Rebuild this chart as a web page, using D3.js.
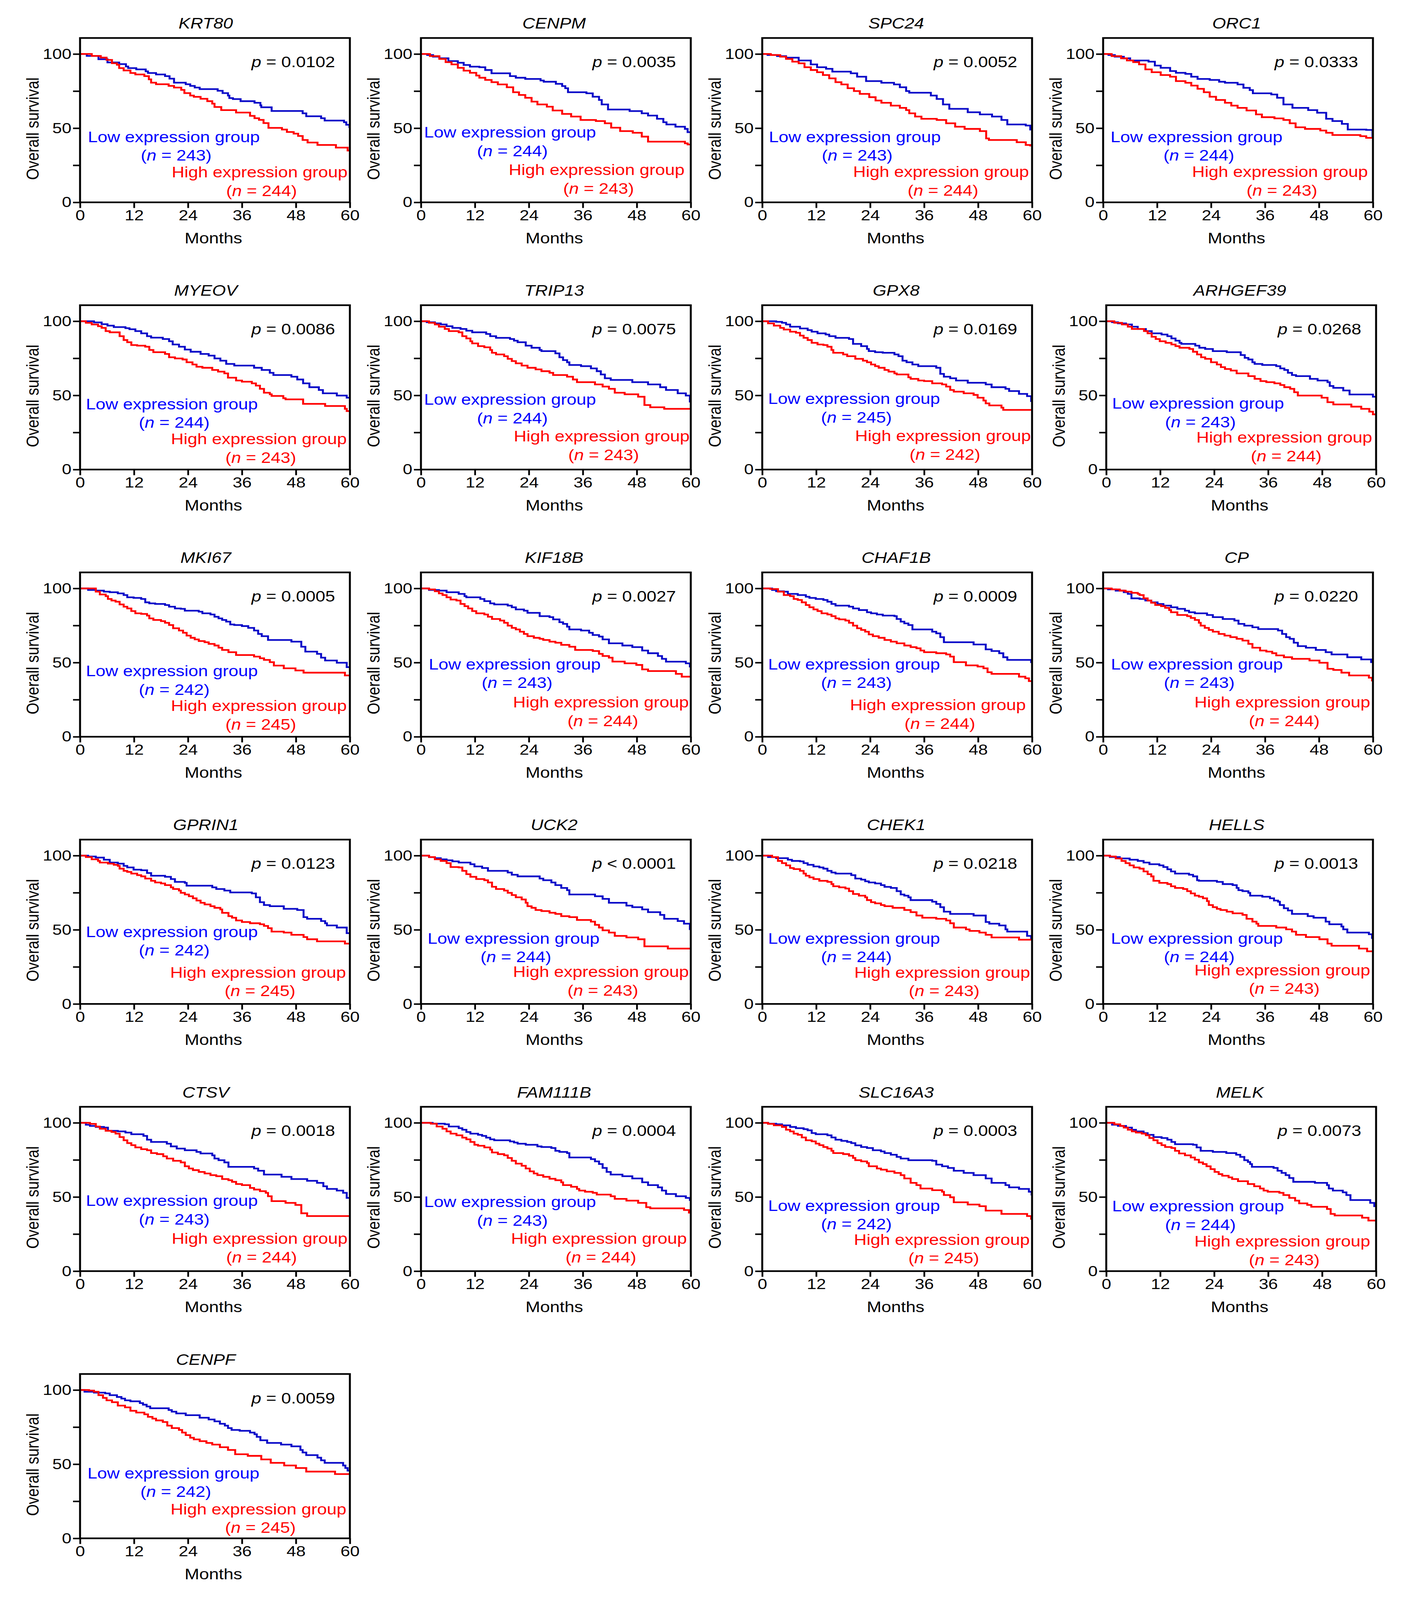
<!DOCTYPE html>
<html lang="en">
<head>
<meta charset="UTF-8">
<title>overall survival by expression group</title>
<script src="https://cdn.jsdelivr.net/npm/d3@7"></script>
<style>
  html, body { margin: 0; padding: 0; background: #fff; overflow: hidden; }
  #chart svg { display: block; }
  text { font-family: "Liberation Sans", Arial, sans-serif; }
</style>
</head>
<body>
<div id="chart"></div>
<script>
// ---- data ----
const genes = ["KRT80", "CENPM", "SPC24", "ORC1",
               "MYEOV", "TRIP13", "GPX8", "ARHGEF39",
               "MKI67", "KIF18B", "CHAF1B", "CP",
               "GPRIN1", "UCK2", "CHEK1", "HELLS",
               "CTSV", "FAM111B", "SLC16A3", "MELK",
               "CENPF"];
const pLabels = ["= 0.0102", "= 0.0035", "= 0.0052", "= 0.0333",
                 "= 0.0086", "= 0.0075", "= 0.0169", "= 0.0268",
                 "= 0.0005", "= 0.0027", "= 0.0009", "= 0.0220",
                 "= 0.0123", "< 0.0001", "= 0.0218", "= 0.0013",
                 "= 0.0018", "= 0.0004", "= 0.0003", "= 0.0073",
                 "= 0.0059"];
const nLow  = [243, 244, 243, 244, 244, 244, 245, 243, 242, 243, 243, 243, 242, 244, 244, 244, 243, 243, 242, 244, 242];
const nHigh = [244, 243, 244, 243, 243, 243, 242, 244, 245, 244, 244, 244, 245, 243, 243, 243, 244, 244, 245, 243, 245];

const monthTicks = [0, 12, 24, 36, 48, 60];
const survivalTicks = [0, 25, 50, 75, 100];
const labelledSurvival = [0, 50, 100];

// Kaplan-Meier steps: [month, survival %] after each drop
const lowCurves = [
  [[1.5,98.7],[4.1,96.5],[6.1,94.3],[8.7,93.2],[10.2,91.6],[10.7,90.5],[12.5,89.6],[14.6,88.3],[15.1,87.2],[16.9,86.2],[18.9,85.1],[19.9,83.4],[20.9,80.7],[23.5,79.6],[24.5,78.5],[25.5,77.4],[26.6,76.3],[30.6,75.2],[31.7,73.6],[32.9,72.0],[33.2,70.3],[34.0,69.6],[35.7,68.2],[38.8,67.1],[40.1,65.4],[40.3,64.1],[42.6,61.6],[49.5,60.0],[50.3,58.0],[53.6,56.7],[54.4,55.1],[58.7,54.0],[59.2,52.3],[59.9,50.7]],
  [[1.4,99.3],[2.7,98.2],[4.1,97.1],[6.1,95.2],[8.2,94.1],[9.5,92.6],[10.9,91.5],[13.0,91.1],[14.3,89.2],[15.7,87.0],[19.8,85.1],[21.1,84.0],[23.2,83.2],[26.6,82.1],[27.3,81.3],[30.0,79.9],[31.4,78.4],[32.1,76.9],[32.7,74.2],[36.8,73.5],[38.2,71.2],[39.6,69.0],[40.2,66.0],[41.6,62.6],[46.4,61.5],[49.1,60.0],[50.5,58.5],[52.5,56.3],[53.9,54.0],[54.6,52.5],[56.6,51.0],[58.7,49.5],[59.3,47.3]],
  [[1.2,99.3],[3.3,98.6],[5.3,97.5],[8.1,95.6],[10.8,93.0],[12.2,91.1],[14.2,90.0],[15.6,88.1],[19.7,87.0],[21.1,84.7],[23.1,81.7],[26.5,80.6],[29.3,79.5],[30.6,77.6],[32.0,75.0],[32.7,73.9],[37.5,72.0],[38.8,69.7],[40.2,66.0],[41.6,63.0],[45.7,60.7],[48.4,59.3],[51.1,57.8],[53.2,55.5],[54.5,52.5],[58.6,51.8],[59.6,49.1]],
  [[1.2,99.3],[2.6,98.2],[4.6,97.1],[6.0,95.6],[10.1,94.8],[11.5,92.2],[12.8,90.7],[14.9,88.5],[16.2,87.3],[18.3,86.6],[19.6,84.7],[21.0,83.2],[23.7,82.5],[25.8,81.3],[27.1,80.6],[29.9,79.5],[31.2,77.2],[32.6,75.7],[33.3,73.5],[37.4,72.7],[38.7,70.5],[40.1,66.0],[42.1,63.7],[45.6,62.2],[47.6,60.4],[49.6,56.3],[51.0,54.8],[53.1,52.9],[54.4,49.1],[58.5,48.8],[59.9,44.3]],
  [[3.1,99.2],[4.8,98.0],[6.1,97.0],[7.5,96.0],[10.1,95.3],[11.0,94.6],[12.3,93.3],[13.6,91.8],[14.9,89.9],[15.8,88.9],[18.4,88.0],[19.8,86.5],[20.6,84.3],[22.0,82.8],[23.3,80.9],[24.6,79.4],[26.8,77.9],[28.6,76.8],[29.9,74.9],[31.2,73.4],[32.5,71.2],[34.3,70.1],[38.7,68.6],[40.4,67.1],[42.2,65.2],[43.0,63.7],[47.0,62.6],[48.3,60.7],[49.6,58.1],[51.0,55.5],[53.1,53.6],[54.0,51.4],[57.1,49.9],[59.3,48.4]],
  [[1.3,99.3],[3.1,98.5],[4.4,97.8],[5.7,96.6],[7.0,95.5],[8.8,94.8],[10.1,93.6],[11.4,92.5],[14.5,91.4],[15.4,89.9],[16.7,88.8],[19.8,88.0],[20.7,86.9],[21.5,85.8],[23.3,83.5],[24.6,82.1],[26.4,80.6],[26.8,79.8],[29.9,78.3],[30.8,75.7],[31.6,73.8],[32.5,72.3],[33.0,70.5],[35.6,69.7],[37.8,68.2],[39.1,66.3],[40.0,64.1],[40.9,61.5],[42.2,60.4],[47.0,58.9],[50.5,57.4],[53.2,55.5],[54.5,53.6],[57.1,51.4],[58.9,49.9],[59.8,45.8]],
  [[3.1,99.6],[4.4,98.9],[5.3,97.8],[6.2,96.3],[8.4,95.1],[10.1,94.0],[11.0,92.9],[12.3,91.8],[14.1,91.0],[14.9,89.9],[16.3,88.8],[19.3,88.0],[20.2,84.7],[22.0,83.2],[23.3,81.3],[23.7,79.8],[25.1,79.1],[26.8,78.7],[29.4,77.6],[30.3,76.4],[31.2,73.4],[32.1,72.3],[33.4,70.8],[34.7,69.7],[38.7,68.6],[39.6,64.5],[40.4,62.6],[41.8,61.5],[43.1,60.0],[45.7,58.5],[49.7,57.4],[51.0,55.5],[54.1,54.4],[54.9,52.9],[57.1,51.0],[58.9,49.5],[59.8,46.1]],
  [[1.3,99.3],[2.6,98.5],[4.4,97.8],[5.7,96.3],[7.0,94.8],[8.8,93.3],[10.1,91.8],[12.3,91.0],[13.6,89.9],[14.5,88.4],[15.4,86.9],[16.3,85.4],[16.7,84.7],[19.8,83.5],[20.7,82.1],[22.0,81.3],[23.7,79.8],[26.8,79.1],[29.9,77.2],[30.8,75.3],[31.6,74.2],[32.5,72.3],[33.0,71.2],[34.7,70.5],[37.8,69.7],[38.7,68.2],[39.6,67.1],[40.4,65.2],[41.3,63.7],[42.2,63.0],[45.3,61.1],[47.0,60.0],[49.2,58.9],[49.7,56.3],[50.5,55.1],[52.7,53.3],[54.1,50.6],[59.3,49.1]],
  [[1.8,98.9],[3.5,98.5],[5.3,97.8],[6.6,97.4],[8.4,96.6],[9.7,95.5],[10.5,94.0],[11.9,93.6],[13.6,92.9],[14.5,90.6],[15.4,89.9],[16.7,89.5],[18.9,88.8],[19.8,87.7],[21.1,86.5],[22.4,86.2],[23.3,85.0],[26.4,84.3],[27.2,83.2],[29.0,82.4],[29.9,80.9],[30.8,79.8],[31.6,78.7],[32.5,77.6],[33.4,75.7],[34.3,75.3],[36.0,74.6],[37.4,73.4],[38.7,71.6],[39.6,69.3],[40.4,67.8],[41.8,65.2],[47.0,64.1],[49.2,60.7],[50.1,57.4],[52.7,55.9],[53.6,53.3],[54.5,51.4],[57.1,49.9],[59.3,46.9]],
  [[1.8,98.9],[4.0,98.5],[5.7,97.4],[8.4,96.3],[9.7,94.8],[10.1,94.0],[13.2,92.9],[14.1,91.4],[15.4,89.9],[16.3,89.2],[19.3,88.4],[20.2,87.3],[21.1,85.8],[22.9,85.0],[23.7,83.5],[26.4,81.3],[28.6,80.6],[29.4,79.1],[30.8,77.2],[31.6,76.1],[32.5,74.2],[33.0,72.3],[35.6,71.6],[37.4,70.1],[38.2,68.6],[39.6,67.5],[40.4,65.6],[41.8,63.0],[44.8,61.5],[47.0,60.4],[49.2,58.1],[50.5,56.3],[52.7,54.4],[53.6,52.5],[54.5,50.6],[58.9,49.5],[59.8,47.3]],
  [[2.2,98.9],[3.1,98.1],[4.8,97.8],[5.7,96.3],[7.9,95.5],[9.7,94.4],[10.5,93.6],[11.9,92.9],[13.6,92.2],[14.5,91.0],[15.4,89.5],[16.3,88.4],[19.3,87.7],[20.2,86.5],[21.5,85.4],[23.3,83.9],[24.2,83.2],[25.5,82.4],[26.8,81.7],[29.4,81.3],[29.9,79.4],[30.8,77.6],[31.6,76.4],[32.5,75.3],[33.4,72.3],[37.8,70.8],[38.7,69.7],[39.6,67.1],[40.4,63.7],[47.0,62.2],[49.7,58.9],[51.0,57.8],[52.7,56.3],[53.6,53.6],[54.5,51.8],[59.8,50.3]],
  [[1.1,99.3],[2.8,98.5],[4.6,97.4],[5.5,96.3],[6.3,93.3],[8.1,92.9],[9.4,91.8],[10.7,90.6],[12.1,89.5],[13.4,88.4],[15.1,87.3],[16.5,86.2],[18.2,85.0],[19.1,83.9],[20.4,83.2],[23.1,82.1],[24.4,80.6],[26.6,79.4],[29.2,78.3],[30.1,76.1],[31.4,74.9],[33.2,73.8],[34.5,72.6],[38.9,71.6],[39.8,69.3],[40.7,67.1],[41.5,66.0],[42.4,63.4],[43.3,61.1],[45.1,60.0],[47.3,58.5],[49.5,57.0],[50.8,55.5],[54.3,53.6],[57.4,52.1],[59.6,50.3]],
  [[1.8,99.4],[3.5,98.7],[5.3,97.2],[6.6,95.3],[8.4,94.6],[9.7,93.1],[10.5,92.0],[11.9,90.5],[13.6,90.1],[14.9,88.3],[15.8,86.4],[18.9,85.7],[20.2,84.2],[21.1,82.3],[23.3,81.6],[23.7,79.7],[29.4,78.6],[30.3,77.5],[32.1,76.4],[33.4,75.2],[38.2,74.5],[39.1,71.9],[40.0,68.6],[40.9,66.7],[42.2,65.9],[45.3,64.1],[48.3,63.3],[49.7,58.5],[50.5,57.4],[53.6,55.9],[54.5,54.4],[54.9,52.9],[57.1,51.5],[59.3,47.7]],
  [[1.8,99.0],[3.1,98.3],[4.4,97.5],[5.7,96.8],[7.0,96.1],[8.4,95.3],[11.0,94.2],[11.9,92.7],[13.6,91.6],[14.9,89.7],[19.3,88.6],[20.2,87.1],[21.5,86.0],[26.4,84.5],[27.2,83.4],[29.0,81.9],[29.9,80.1],[31.2,78.2],[32.5,76.7],[33.0,73.8],[38.7,72.6],[40.4,70.8],[41.8,68.2],[45.7,66.3],[47.0,65.2],[49.2,63.7],[50.5,61.9],[53.2,60.0],[54.1,57.4],[57.1,55.9],[58.5,54.1],[59.8,50.4]],
  [[1.3,99.0],[3.1,98.3],[5.7,97.2],[6.6,96.4],[8.4,96.1],[9.2,94.9],[10.1,93.8],[11.4,92.7],[12.7,92.0],[13.6,91.2],[14.5,89.7],[15.4,88.6],[16.3,87.9],[19.8,86.8],[20.7,84.5],[22.0,83.8],[22.9,82.7],[23.7,81.9],[25.1,81.2],[26.4,80.1],[27.2,78.9],[28.6,78.2],[29.9,76.0],[30.8,73.8],[31.6,73.0],[32.5,71.9],[33.0,70.0],[37.8,68.9],[38.7,67.4],[39.6,65.2],[40.4,62.2],[41.8,60.7],[47.0,59.6],[49.7,55.2],[50.5,54.1],[52.7,52.9],[54.1,50.3],[54.5,48.8],[58.9,45.9],[59.8,43.6]],
  [[1.5,99.0],[3.7,98.1],[5.9,97.2],[7.7,96.4],[9.0,95.3],[10.3,94.2],[12.5,93.4],[13.4,92.3],[14.3,90.8],[15.1,89.3],[16.0,87.9],[19.1,87.1],[20.0,86.0],[20.9,83.4],[21.3,83.0],[25.3,82.3],[26.6,80.8],[28.8,80.1],[29.7,78.2],[30.1,76.7],[31.0,76.0],[32.3,74.9],[32.7,73.0],[35.4,72.3],[37.1,71.2],[38.0,69.7],[38.9,68.9],[39.3,66.7],[40.2,64.5],[41.1,63.0],[42.0,60.7],[45.5,59.2],[46.8,58.1],[49.5,55.5],[50.3,53.7],[53.0,52.2],[53.4,50.3],[54.3,48.1],[59.1,47.0],[59.8,44.4]],
  [[1.3,98.7],[2.2,97.9],[3.5,97.2],[5.3,96.8],[6.2,94.6],[8.4,94.2],[10.1,93.4],[11.4,92.3],[14.1,91.2],[14.9,88.6],[15.8,87.1],[19.3,85.9],[20.2,84.1],[21.5,82.6],[23.3,81.5],[25.9,80.4],[26.8,79.3],[29.4,78.1],[29.9,75.9],[30.8,74.8],[32.1,73.3],[33.0,70.3],[38.7,69.2],[39.6,67.7],[40.9,65.1],[44.8,63.6],[47.0,62.1],[50.5,60.9],[52.7,59.5],[54.1,57.2],[54.9,55.4],[57.1,54.3],[58.5,52.8],[59.3,49.4]],
  [[2.6,99.4],[5.3,99.0],[6.2,97.5],[8.4,96.4],[9.2,95.3],[10.1,93.8],[11.0,92.7],[12.7,91.9],[13.6,91.2],[14.5,90.0],[15.4,88.9],[16.3,88.2],[19.8,87.4],[20.7,86.7],[21.5,85.9],[23.3,85.2],[25.9,84.1],[26.8,83.7],[29.0,83.0],[29.9,81.1],[30.8,80.4],[32.5,79.6],[33.0,76.6],[37.8,75.5],[38.7,74.0],[39.6,72.2],[40.4,69.6],[41.3,66.9],[42.2,65.1],[44.8,64.0],[47.0,62.5],[49.2,59.9],[50.5,58.0],[52.7,56.5],[53.6,54.3],[54.5,52.0],[56.7,50.5],[58.9,49.4],[59.8,47.9]],
  [[1.3,99.4],[3.1,99.0],[4.4,98.3],[6.2,97.2],[7.5,96.4],[9.2,95.7],[10.1,94.9],[11.0,93.1],[11.9,92.3],[14.5,91.6],[15.4,90.1],[16.3,88.6],[17.6,87.8],[18.9,87.1],[19.8,86.3],[20.7,84.8],[22.0,83.7],[23.3,83.0],[24.6,81.5],[26.4,80.7],[27.2,79.6],[28.6,78.5],[29.9,77.0],[30.8,75.9],[32.5,74.8],[37.8,74.4],[38.7,71.8],[40.0,70.7],[41.3,69.6],[42.6,67.7],[44.8,66.2],[47.0,64.7],[49.7,62.5],[51.0,59.5],[54.1,58.0],[54.9,56.5],[57.1,55.4],[59.3,53.5],[59.9,51.6]],
  [[1.3,98.7],[2.6,97.9],[4.4,96.8],[5.7,95.3],[6.6,94.2],[8.3,93.1],[9.2,91.9],[10.5,90.4],[12.3,89.7],[13.6,88.6],[14.5,87.1],[15.3,85.6],[19.3,85.2],[20.1,83.4],[21.0,81.1],[23.7,80.4],[26.7,79.6],[28.9,78.5],[29.8,77.0],[30.7,74.8],[31.5,73.6],[32.0,72.2],[32.4,70.3],[37.2,69.6],[38.1,67.7],[39.0,66.2],[39.9,64.7],[40.7,62.8],[41.6,60.2],[46.4,59.5],[49.1,58.0],[49.5,55.7],[50.4,54.3],[52.6,53.1],[53.4,51.3],[54.3,47.9],[58.7,46.0],[59.6,43.8]],
  [[1.0,98.8],[3.1,98.2],[5.6,97.7],[6.6,96.5],[8.2,95.3],[9.2,94.2],[10.0,93.0],[11.2,92.4],[13.3,91.2],[14.0,90.1],[14.8,88.9],[15.6,87.7],[19.7,86.5],[20.4,85.4],[21.4,84.2],[23.5,83.0],[26.6,81.3],[28.6,80.1],[29.9,78.9],[31.1,77.2],[32.2,76.0],[32.9,74.3],[33.7,73.1],[35.5,72.5],[37.8,71.3],[38.8,70.2],[39.3,68.4],[40.1,66.1],[41.6,64.3],[44.7,63.2],[47.0,62.0],[49.0,59.6],[49.5,57.9],[50.3,56.1],[52.8,54.4],[53.6,52.6],[54.4,50.9],[58.5,49.1],[59.0,47.4],[59.5,45.6]]
];
const highCurves = [
  [[2.6,98.7],[4.6,97.6],[5.9,96.0],[7.1,93.8],[8.2,92.7],[8.7,90.5],[9.7,88.9],[11.2,87.2],[12.3,86.2],[14.3,85.1],[15.3,82.9],[15.8,80.7],[16.9,79.6],[19.7,78.5],[20.9,77.4],[22.5,75.8],[23.2,73.6],[24.5,72.0],[25.3,71.1],[26.8,69.8],[28.3,68.2],[29.4,66.5],[29.9,64.3],[31.4,62.2],[34.7,60.5],[37.8,58.3],[38.8,56.7],[39.8,55.6],[40.8,53.4],[41.9,50.2],[44.9,49.1],[46.0,47.4],[47.5,46.3],[48.5,44.7],[49.5,42.0],[50.6,40.3],[52.8,38.7],[56.9,36.9],[59.5,34.9]],
  [[2.0,98.6],[4.1,96.7],[5.5,94.5],[6.8,93.0],[8.2,90.7],[9.5,88.8],[10.9,87.3],[12.3,85.5],[13.0,84.0],[14.3,82.5],[15.7,81.0],[17.1,79.5],[19.1,77.6],[20.5,74.2],[21.8,72.4],[23.2,70.5],[24.6,67.9],[25.9,66.0],[28.0,64.5],[29.3,61.9],[31.4,59.6],[33.4,57.8],[35.5,55.5],[38.9,54.8],[40.9,53.3],[42.3,50.3],[44.3,48.0],[47.1,46.9],[49.1,44.3],[50.5,40.9],[58.7,39.8],[59.3,39.0]],
  [[1.9,99.3],[4.0,98.2],[5.3,96.7],[6.7,94.8],[8.1,93.7],[9.4,91.1],[10.8,89.2],[12.2,87.7],[13.5,85.8],[14.9,83.6],[16.3,81.0],[17.6,79.5],[19.0,76.9],[20.4,75.0],[21.7,73.1],[23.8,70.9],[25.2,68.6],[26.5,67.1],[28.6,65.2],[30.6,63.7],[32.0,62.2],[32.7,60.0],[34.0,57.8],[35.4,56.3],[38.8,55.5],[40.9,53.3],[42.9,51.0],[45.0,49.5],[48.4,48.0],[49.8,43.1],[50.4,42.0],[56.6,40.5],[58.6,38.7],[59.6,38.3]],
  [[1.9,98.6],[4.0,97.1],[5.3,95.6],[6.7,94.5],[8.0,93.0],[9.4,89.6],[10.8,87.7],[12.8,85.8],[14.9,84.7],[16.2,81.7],[18.3,80.6],[19.6,78.7],[21.0,76.5],[22.4,74.2],[23.7,71.2],[25.1,69.0],[27.1,67.1],[28.5,65.2],[29.9,63.7],[31.9,61.9],[34.0,59.3],[35.3,57.4],[38.1,56.6],[40.1,55.5],[41.5,53.3],[42.8,50.6],[44.9,49.5],[48.3,48.4],[49.6,46.9],[51.0,45.4],[57.2,44.6],[58.5,43.5]],
  [[1.3,98.9],[2.6,97.8],[4.0,96.6],[4.8,95.5],[5.7,93.3],[6.6,92.5],[8.8,89.9],[9.7,87.3],[10.5,85.8],[11.4,83.9],[12.7,83.5],[14.5,82.8],[15.4,80.6],[16.3,79.1],[18.9,77.9],[19.8,75.7],[21.1,74.9],[22.8,74.2],[23.7,72.3],[25.0,70.8],[25.9,69.3],[27.2,68.6],[29.4,67.1],[30.7,66.0],[32.1,64.8],[32.9,61.9],[34.7,60.0],[36.0,59.2],[38.2,58.1],[39.1,56.6],[40.0,54.4],[40.9,51.8],[42.2,50.7],[42.6,49.6],[45.2,48.1],[45.7,47.3],[49.6,44.3],[54.5,42.8],[58.9,40.9],[59.3,39.4]],
  [[1.8,98.9],[3.1,97.8],[4.0,96.3],[5.3,94.8],[6.2,93.3],[8.4,92.5],[9.2,89.9],[10.1,88.4],[11.0,86.5],[11.4,85.0],[12.7,83.2],[14.1,82.4],[15.4,80.6],[15.8,78.7],[16.7,77.6],[18.5,76.4],[19.3,74.6],[20.2,73.1],[21.1,71.6],[22.4,70.1],[23.7,68.6],[25.5,67.5],[26.8,66.3],[28.6,65.2],[29.4,63.7],[32.5,62.6],[33.8,60.7],[34.7,58.9],[38.7,57.4],[40.4,55.9],[41.8,54.4],[43.1,51.8],[45.3,50.7],[48.3,49.1],[49.7,43.5],[51.0,42.0],[54.1,40.9]],
  [[1.3,98.5],[2.6,97.0],[4.0,95.5],[4.8,94.4],[6.2,92.9],[7.5,92.2],[8.4,90.3],[9.2,88.8],[10.1,87.3],[11.0,85.4],[12.3,84.3],[13.6,83.9],[14.5,82.8],[15.4,80.6],[15.8,78.7],[18.0,77.6],[18.9,76.4],[20.7,74.6],[22.4,73.4],[23.3,72.3],[24.2,70.8],[25.1,69.7],[25.9,68.6],[27.2,67.1],[28.1,66.0],[29.4,64.8],[29.9,64.1],[32.5,62.2],[33.0,61.1],[34.7,60.0],[36.0,59.6],[37.8,58.1],[40.0,57.4],[40.9,55.9],[41.8,53.6],[42.6,52.5],[44.8,51.4],[47.0,50.3],[47.9,48.4],[49.2,46.5],[49.7,44.6],[50.5,43.2],[53.2,41.7],[53.6,40.2]],
  [[1.8,98.9],[3.5,97.8],[4.8,96.3],[5.7,94.8],[8.4,93.3],[9.2,91.8],[10.1,89.5],[11.0,88.0],[11.9,86.5],[13.2,85.4],[14.5,84.3],[15.4,83.2],[16.3,82.1],[18.5,81.3],[19.3,79.4],[20.2,77.6],[21.1,75.7],[22.0,74.6],[23.3,72.3],[24.6,70.8],[25.5,69.0],[26.4,67.8],[27.7,66.7],[29.0,64.8],[31.6,63.0],[33.0,61.1],[34.3,59.6],[35.6,58.9],[37.4,58.1],[38.7,57.0],[39.6,55.5],[40.9,54.4],[41.8,52.1],[42.6,49.9],[47.9,48.4],[49.2,45.4],[50.5,43.9],[54.5,42.4],[56.7,40.9],[58.5,39.0],[59.3,37.2]],
  [[3.5,97.8],[4.4,95.9],[5.7,94.8],[6.2,92.9],[7.0,91.8],[7.9,91.0],[8.8,89.2],[9.7,87.7],[10.5,86.5],[11.4,84.7],[12.3,83.2],[13.6,82.8],[14.9,81.7],[15.4,79.8],[16.3,78.7],[18.0,77.9],[18.9,76.8],[19.8,75.3],[20.7,73.1],[22.0,71.6],[22.9,70.1],[23.7,68.2],[24.6,66.7],[25.5,65.6],[26.4,64.5],[27.7,63.7],[28.6,62.6],[29.9,61.5],[30.8,60.0],[31.6,58.5],[33.0,57.0],[34.7,55.1],[38.7,54.0],[40.0,52.9],[40.9,51.8],[42.2,50.3],[43.1,48.0],[45.3,46.1],[47.9,44.7],[49.7,43.2],[58.9,41.3]],
  [[1.8,99.3],[3.1,98.1],[4.0,96.6],[4.8,95.5],[5.7,94.0],[6.6,92.5],[7.9,91.8],[8.8,89.5],[9.7,88.0],[10.5,86.5],[11.4,84.7],[12.3,83.2],[14.1,82.4],[14.9,80.9],[15.8,79.4],[17.6,78.3],[18.5,76.8],[19.3,74.9],[20.2,73.4],[21.1,72.3],[22.0,70.8],[22.9,69.3],[23.7,67.8],[25.1,66.7],[26.4,66.0],[27.2,65.2],[28.6,64.1],[29.9,63.4],[31.2,61.9],[33.0,60.7],[34.3,58.5],[38.2,57.8],[39.6,55.9],[40.4,54.4],[41.8,53.3],[42.6,50.7],[45.3,49.5],[47.9,48.4],[49.2,45.4],[50.5,44.3],[56.7,42.4],[58.0,40.5]],
  [[1.8,99.6],[3.5,97.8],[4.8,95.5],[6.2,94.8],[7.0,92.9],[7.9,92.2],[8.8,90.6],[9.7,88.8],[10.5,87.3],[11.4,85.8],[12.3,84.7],[13.2,83.2],[14.5,82.4],[15.4,81.3],[16.3,79.8],[17.1,79.1],[18.5,78.3],[19.3,76.8],[20.2,74.9],[21.1,73.1],[22.0,72.0],[22.9,70.8],[23.7,69.0],[24.6,67.8],[25.9,66.7],[27.2,65.2],[28.6,64.1],[29.9,63.0],[31.6,61.5],[33.0,60.4],[34.3,59.6],[35.2,58.1],[36.0,57.0],[38.7,56.3],[40.9,55.5],[41.8,54.0],[42.6,50.3],[45.3,48.1],[47.9,47.3],[49.2,46.1],[50.1,43.5],[51.0,42.4],[57.1,40.5],[58.5,39.4],[59.3,37.5]],
  [[1.9,99.3],[3.7,98.5],[5.0,97.8],[6.3,97.0],[7.7,96.3],[8.1,95.5],[9.0,93.3],[9.9,91.8],[10.7,90.3],[11.6,88.8],[12.9,88.0],[13.8,86.9],[14.7,85.4],[15.1,83.9],[16.5,82.1],[18.7,81.3],[19.5,80.1],[20.4,78.7],[21.3,76.8],[21.7,74.9],[22.6,73.4],[23.5,72.0],[24.4,70.8],[25.7,69.3],[27.0,68.2],[28.3,67.1],[29.7,66.0],[31.0,64.8],[32.3,62.6],[33.2,60.0],[34.9,58.1],[36.3,57.4],[37.6,56.3],[38.5,54.8],[40.2,53.6],[42.0,52.5],[45.9,51.4],[48.1,49.9],[49.9,45.8],[51.2,45.0],[53.0,43.2],[54.7,41.3],[59.1,39.8],[59.8,37.9]],
  [[1.3,99.0],[2.6,97.5],[4.0,96.4],[4.4,95.3],[6.2,94.6],[7.5,93.8],[8.4,93.1],[8.8,91.2],[9.7,89.7],[10.5,89.0],[11.4,87.9],[12.7,86.8],[13.6,86.0],[14.5,84.5],[15.8,83.0],[16.7,81.9],[18.0,81.2],[18.9,80.1],[20.2,78.6],[20.7,77.5],[22.0,76.4],[22.4,74.9],[23.3,73.8],[24.2,72.6],[25.1,71.2],[25.9,69.7],[26.8,68.2],[27.7,67.1],[29.0,65.9],[29.9,64.8],[31.2,63.7],[31.6,61.4],[33.0,59.2],[33.8,58.1],[34.7,56.3],[36.0,55.2],[37.8,54.4],[40.0,53.7],[40.9,52.6],[41.8,51.1],[42.6,48.8],[45.3,48.1],[47.0,46.6],[49.7,45.1],[50.5,43.6],[52.7,42.2],[58.9,40.7]],
  [[1.8,99.0],[3.1,97.5],[4.4,96.4],[5.7,94.9],[6.6,92.3],[8.4,92.0],[9.2,89.7],[10.1,87.5],[11.0,85.7],[12.3,84.2],[14.1,83.4],[14.9,81.9],[15.8,79.0],[16.7,77.5],[18.5,76.4],[19.3,74.9],[20.2,73.4],[21.1,71.9],[22.4,70.4],[23.3,68.2],[23.7,65.9],[24.6,64.8],[25.5,63.3],[26.8,62.6],[28.6,61.5],[29.9,60.7],[31.2,59.2],[33.0,58.5],[34.7,56.6],[37.8,55.5],[38.7,53.3],[39.6,51.5],[40.4,49.6],[41.8,48.1],[43.1,45.9],[45.7,44.8],[48.3,43.6],[49.7,38.8],[54.9,37.3]],
  [[2.2,99.0],[3.5,96.4],[4.4,94.9],[5.3,93.4],[6.2,91.6],[7.0,90.9],[8.4,89.7],[9.2,87.9],[9.7,86.4],[10.5,85.3],[11.4,84.2],[12.7,83.0],[14.5,82.3],[15.4,80.8],[15.8,79.3],[17.1,78.6],[18.5,77.8],[19.3,76.0],[20.2,74.1],[21.5,73.0],[22.9,71.9],[23.3,70.0],[24.2,68.6],[25.1,67.8],[26.4,66.7],[27.2,65.9],[29.0,64.8],[31.6,63.3],[33.0,61.9],[34.3,59.6],[35.6,58.1],[38.7,57.4],[40.9,56.3],[41.8,54.4],[42.6,51.5],[45.3,50.3],[46.1,49.2],[48.3,48.1],[49.7,46.6],[51.0,44.8],[57.1,43.3]],
  [[1.5,99.4],[2.8,98.1],[4.1,96.4],[5.0,94.9],[5.9,93.4],[6.8,92.0],[8.1,91.2],[9.0,89.3],[9.9,87.5],[10.7,86.0],[11.2,83.0],[12.5,81.6],[14.3,80.8],[15.1,79.3],[16.0,78.2],[17.8,77.5],[18.7,76.0],[19.5,74.5],[20.4,73.0],[21.3,72.3],[22.2,71.2],[23.1,69.3],[23.5,66.7],[24.4,65.2],[25.3,64.1],[26.1,63.3],[27.5,62.2],[28.8,61.1],[31.0,60.0],[31.9,57.4],[33.2,55.5],[34.1,54.1],[34.5,52.6],[38.5,51.5],[40.7,50.3],[42.0,48.8],[42.9,46.6],[45.1,45.1],[48.1,43.6],[49.9,40.7],[50.8,39.2],[56.9,37.3],[58.7,35.5]],
  [[2.2,99.3],[3.5,97.5],[4.4,96.0],[5.7,94.6],[7.0,93.8],[7.9,92.7],[8.8,90.4],[9.7,88.2],[10.5,86.3],[11.4,84.9],[12.3,83.4],[13.6,82.2],[14.9,81.5],[15.8,79.6],[17.1,78.9],[18.5,77.4],[19.3,75.9],[20.7,74.4],[22.4,73.3],[23.3,70.7],[24.2,69.2],[25.1,68.1],[26.4,66.9],[27.7,65.8],[29.0,64.7],[30.3,64.0],[31.6,62.1],[33.0,61.3],[33.8,60.2],[34.7,58.7],[36.0,58.0],[37.8,56.1],[38.7,55.0],[40.0,53.9],[41.3,52.8],[41.8,50.5],[42.6,47.2],[45.7,46.0],[47.9,44.6],[49.2,39.0],[50.5,37.1]],
  [[2.2,99.4],[3.5,97.5],[4.8,96.0],[5.7,94.2],[6.6,92.7],[7.9,91.6],[9.2,90.0],[10.1,88.9],[11.0,87.1],[11.9,85.2],[12.7,84.5],[14.1,83.4],[15.4,81.9],[15.8,80.0],[17.1,78.9],[18.5,78.1],[19.3,76.3],[20.2,74.4],[21.1,72.5],[22.4,71.0],[23.3,69.2],[24.2,67.3],[25.1,65.8],[25.9,64.7],[27.2,63.6],[28.6,62.3],[29.9,61.3],[31.2,59.9],[31.6,58.0],[33.4,56.9],[34.7,55.4],[35.2,54.3],[36.5,53.5],[38.2,52.8],[39.1,51.6],[42.2,50.5],[43.1,48.7],[45.7,47.5],[48.3,46.0],[50.1,43.1],[51.0,42.3],[58.5,41.2],[59.6,39.4]],
  [[1.3,99.3],[2.6,98.3],[4.4,97.2],[5.3,95.3],[6.2,94.2],[7.0,92.7],[7.9,91.9],[8.8,90.1],[9.7,88.2],[11.0,87.5],[11.9,86.0],[12.7,84.9],[13.6,83.7],[14.5,82.6],[15.4,81.1],[15.8,79.6],[18.0,78.9],[19.3,77.8],[20.2,76.3],[20.7,74.8],[22.0,74.0],[23.3,72.9],[23.7,70.7],[25.5,69.2],[26.4,68.4],[27.7,67.3],[29.4,66.2],[30.8,64.7],[31.6,62.5],[33.0,59.5],[34.3,58.0],[35.2,55.7],[37.8,54.6],[40.0,53.5],[40.4,51.3],[41.8,49.8],[42.6,46.4],[45.7,44.9],[48.3,43.8],[49.7,40.8],[53.2,38.6],[58.9,37.1],[59.8,35.2]],
  [[1.8,99.0],[3.1,97.9],[3.9,96.8],[4.8,95.3],[5.7,94.2],[6.6,93.4],[7.9,92.7],[8.8,91.6],[9.6,89.7],[10.5,88.2],[11.4,86.3],[12.3,84.9],[13.1,83.7],[14.5,83.0],[15.3,81.1],[16.2,79.3],[17.5,78.1],[18.8,76.6],[19.7,75.1],[20.6,73.3],[21.5,72.2],[22.3,70.7],[23.2,68.8],[24.1,66.9],[25.0,65.4],[25.8,64.3],[27.2,63.2],[28.0,62.1],[29.3,60.6],[31.5,58.7],[32.9,57.2],[34.2,55.7],[35.0,54.3],[35.9,53.5],[38.5,52.8],[39.4,51.3],[40.7,49.4],[42.0,47.5],[42.9,45.7],[44.7,44.6],[45.6,43.4],[49.1,41.9],[49.9,38.6],[50.8,37.5],[56.9,36.0],[58.3,34.1]],
  [[2.0,99.6],[3.1,98.8],[4.1,96.5],[5.1,94.7],[5.9,93.0],[7.1,91.8],[8.4,89.5],[10.0,88.3],[11.2,86.0],[12.5,84.8],[14.3,83.6],[15.1,81.9],[16.1,80.7],[16.9,79.5],[18.4,78.4],[19.4,76.0],[20.4,74.3],[22.0,73.1],[22.7,71.3],[23.5,69.6],[24.5,67.8],[25.3,66.7],[26.6,65.5],[28.1,64.3],[29.4,63.2],[31.1,61.4],[32.9,59.6],[34.5,56.7],[37.3,55.6],[40.3,53.2],[42.4,50.9],[45.4,49.1],[48.0,47.4],[50.3,45.0],[56.7,43.3]]
];

// ---- layout (pixels of the 3616 x 4800 figure) ----
const width = 3616, height = 4800;
const boxW = 691, boxH = 493;
const colX = [205, 1078, 1952, 2825];
const rowTop = 114, rowStep = 801.6;
const titleX = [322, 341, 343, 342];
const boxShift = {ARHGEF39: 8, MELK: 8};
// per panel: [low label left, low label centre y, high label right inset, high label centre y]
const legendLayout = [
  [20, 299, 6, 405], [8, 286, 16, 398], [17, 299, 8, 404], [19, 299, 13, 404],
  [15, 299, 8, 404], [8, 286, 3, 396], [15, 283, 3, 395], [15, 297, 10, 399],
  [15, 298, 8, 403], [20, 278, 5, 392], [15, 278, 16, 400], [20, 278, 7, 392],
  [15, 279, 10, 401], [17, 299, 5, 399], [15, 299, 5, 401], [20, 299, 7, 394],
  [15, 284, 6, 398], [8, 288, 10, 398], [15, 299, 6, 401], [15, 301, 15, 406],
  [19, 300, 9, 408]
];
const lowColor = "#0000ff", highColor = "#ff0000";
const lowLine = "#0a0ac8";

// the page viewport can be shorter than the figure: fit the whole figure into it
const vw = window.innerWidth || width, vh = window.innerHeight || height;
const svg = d3.select("#chart")
    .append("svg")
    .attr("width", vw)
    .attr("height", vh)
    .attr("viewBox", `0 0 ${width} ${height}`)
    .attr("preserveAspectRatio", "none");
svg.append("rect").attr("width", width).attr("height", height).attr("fill", "#fff");

const xScale = d3.scaleLinear().domain([0, 60]).range([0, boxW]);
const yScale = d3.scaleLinear().domain([0, 100]).range([boxH, 48]);
const line = d3.line()
    .x(d => xScale(d[0]))
    .y(d => yScale(d[1]))
    .curve(d3.curveStepAfter);

function fullCurve(steps) {
    const pts = [[0, 100]].concat(steps);
    const last = pts[pts.length - 1];
    if (last[0] < 60) pts.push([60, last[1]]);
    return pts;
}

function nLabel(sel, n) {
    sel.append("tspan").text("(");
    sel.append("tspan").attr("font-style", "italic").text("n");
    sel.append("tspan").text(" = " + n + ")");
}

genes.forEach((gene, i) => {
    const col = i % 4, row = Math.floor(i / 4);
    const g = svg.append("g")
        .attr("transform", `translate(${colX[col] + (boxShift[gene] || 0)}, ${rowTop + row * rowStep})`);

    // curves: low first, high drawn on top
    g.append("path")
        .datum(fullCurve(lowCurves[i]))
        .attr("d", line)
        .attr("fill", "none")
        .attr("stroke", lowLine)
        .attr("stroke-width", 5);
    g.append("path")
        .datum(fullCurve(highCurves[i]))
        .attr("d", line)
        .attr("fill", "none")
        .attr("stroke", highColor)
        .attr("stroke-width", 5);

    // frame
    g.append("rect")
        .attr("width", boxW).attr("height", boxH)
        .attr("fill", "none").attr("stroke", "#000").attr("stroke-width", 5);

    // axes
    const yAxis = d3.axisLeft(yScale)
        .tickValues(survivalTicks)
        .tickFormat(d => labelledSurvival.includes(d) ? d : "")
        .tickSize(18).tickSizeOuter(0).tickPadding(4);
    const ya = g.append("g").call(yAxis);
    const xAxis = d3.axisBottom(xScale)
        .tickValues(monthTicks)
        .tickSize(17).tickSizeOuter(0).tickPadding(6);
    const xa = g.append("g").attr("transform", `translate(0, ${boxH})`).call(xAxis);
    [ya, xa].forEach(a => {
        a.select(".domain").remove();
        a.selectAll("line").attr("stroke", "#000").attr("stroke-width", 4.5);
        a.selectAll("text")
            .attr("fill", "#000")
            .attr("font-size", 44)
            .attr("font-family", '"Liberation Sans", Arial, sans-serif');
    });

    // titles and axis labels
    g.append("text")
        .attr("x", titleX[col]).attr("y", -28)
        .attr("text-anchor", "middle")
        .attr("font-size", 45).attr("font-style", "italic")
        .text(gene);
    g.append("text")
        .attr("x", boxW / 2 - 4).attr("y", boxH + 123)
        .attr("text-anchor", "middle")
        .attr("font-size", 45)
        .text("Months");
    g.append("text")
        .attr("transform", "translate(-106, 272) rotate(-90)")
        .attr("text-anchor", "middle")
        .attr("font-size", 45)
        .text("Overall survival");

    // p value
    const p = g.append("text")
        .attr("x", boxW - 38).attr("y", 88)
        .attr("text-anchor", "end")
        .attr("font-size", 45);
    p.append("tspan").attr("font-style", "italic").text("p");
    p.append("tspan").text(" " + pLabels[i]);

    // group labels
    const [lowX, lowY, highR, highY] = legendLayout[i];
    const low = g.append("text")
        .attr("x", lowX).attr("y", lowY + 13)
        .attr("font-size", 45).attr("fill", lowColor)
        .text("Low expression group");
    const lowW = low.node().getComputedTextLength();
    g.append("text")
        .attr("x", lowX + lowW / 2 + 6).attr("y", lowY + 55 + 14)
        .attr("text-anchor", "middle")
        .attr("font-size", 45).attr("fill", lowColor)
        .call(nLabel, nLow[i]);

    const high = g.append("text")
        .attr("x", boxW - highR).attr("y", highY + 13)
        .attr("text-anchor", "end")
        .attr("font-size", 45).attr("fill", highColor)
        .text("High expression group");
    const highW = high.node().getComputedTextLength();
    g.append("text")
        .attr("x", boxW - highR - highW / 2 + 5).attr("y", highY + 55 + 14)
        .attr("text-anchor", "middle")
        .attr("font-size", 45).attr("fill", highColor)
        .call(nLabel, nHigh[i]);
});
</script>
</body>
</html>
